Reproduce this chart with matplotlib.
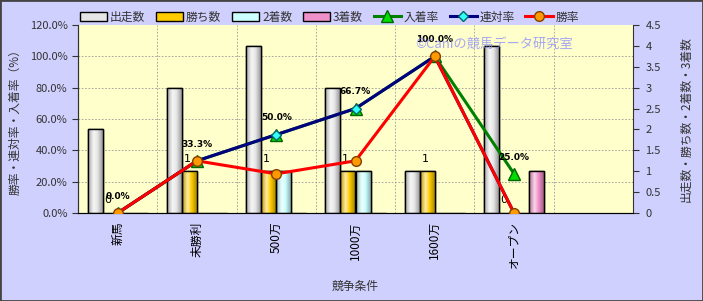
import numpy as np
import matplotlib
matplotlib.use('Agg')
import matplotlib.pyplot as plt
from matplotlib.patches import Rectangle
from matplotlib.colors import to_rgb

plt.rcParams['font.family'] = ['Noto Sans CJK JP', 'DejaVu Sans']

# data
categories = ['新馬', '未勝利', '500万', '1000万', '1600万', 'オープン']
starts = [2, 3, 4, 3, 1, 4]        # 出走数
wins = [0, 1, 1, 1, 1, 0]          # 勝ち数
seconds = [0, 0, 1, 1, 0, 0]       # 2着数
thirds = [0, 0, 0, 0, 0, 1]        # 3着数
place_rate = [0.0, 33.3, 50.0, 66.7, 100.0, 25.0]   # 入着率
quinella_rate = [0.0, 33.3, 50.0, 66.7, 100.0, 0.0]  # 連対率
win_rate = [0.0, 33.3, 25.0, 33.3, 100.0, 0.0]       # 勝率

bg = '#D0D0FF'
txt = '#333333'

fig = plt.figure(figsize=(7.03, 3.01), dpi=100, facecolor=bg)
fig.patches.append(Rectangle((0, 0), 1, 1, transform=fig.transFigure, fill=False,
                             edgecolor='#444444', linewidth=2))

ax = fig.add_axes([78/703, 88/301, 555/703, 188/301])
ax.set_facecolor('#FFFFCC')

# grid lines behind the bars (match the left-axis 20% steps)
for v in np.arange(0.75, 4.5, 0.75):
    ax.axhline(v, color='#999999', linestyle=(0, (2, 2)), linewidth=0.6, zorder=0)
for v in np.arange(0.5, 6.5, 1):
    ax.axvline(v, color='#999999', linestyle=(0, (2, 2)), linewidth=0.6, zorder=0)

x = np.arange(len(categories))
w = 0.19
bar_series = [(starts, '#E6E6E6', '出走数'), (wins, '#FFCC00', '勝ち数'),
              (seconds, '#CCFFFF', '2着数'), (thirds, '#F090C8', '3着数')]


def shade(base):
    c = np.array(to_rgb(base))
    stops = [(0.0, c * 0.72), (0.35, c * 0.35 + 0.65), (0.6, c), (1.0, c * 0.6)]
    t = np.linspace(0, 1, 64)
    out = np.zeros((1, 64, 3))
    for k in range(3):
        out[0, :, k] = np.interp(t, [s[0] for s in stops], [s[1][k] for s in stops])
    return np.clip(out, 0, 1)


handles = []
for i, (vals, col, name) in enumerate(bar_series):
    bars = ax.bar(x + (i - 1.5) * w, vals, width=w, color=col, edgecolor='black',
                  linewidth=1.0, zorder=2)
    grad = shade(col)
    for b in bars:
        if b.get_height() <= 0:
            continue
        im = ax.imshow(grad, extent=[b.get_x(), b.get_x() + b.get_width(), 0, b.get_height()],
                       aspect='auto', zorder=2.1, interpolation='bilinear')
        im.set_clip_path(b)
        ax.add_patch(Rectangle((b.get_x(), 0), b.get_width(), b.get_height(), fill=False,
                               edgecolor='black', linewidth=1.0, zorder=2.2))
    handles.append(Rectangle((0, 0), 1, 1, facecolor=col, edgecolor='black', linewidth=1.0))
    if name == '勝ち数':
        for xi, v in zip(x, vals):
            ax.text(xi - 0.5 * w - 0.03, v + 0.18, str(v), ha='center', va='bottom',
                    fontsize=8, color='black', family='DejaVu Sans', zorder=6)

ax.set_xlim(-0.5, 6.5)
ax.set_ylim(0, 4.5)
ax.set_xticks(x)
ax.set_xticklabels(categories, rotation=90, fontsize=8.5, color='black')
ax.tick_params(axis='x', length=0, pad=6)
ax.set_xlabel('競争条件', fontsize=8.5, color=txt, labelpad=8)
ax.spines['top'].set_visible(False)
for s in ['left', 'right', 'bottom']:
    ax.spines[s].set_color('#333333')

ax2 = ax.twinx()
# twinx moves the first axis ticks to the left, put them back on the right
ax.yaxis.tick_right()
ax.yaxis.set_label_position('right')
ax.set_yticks(np.arange(0, 4.51, 0.5))
ax.set_yticklabels(['0', '0.5', '1', '1.5', '2', '2.5', '3', '3.5', '4', '4.5'])
ax.tick_params(axis='y', colors=txt, labelsize=8, length=4, direction='out', pad=5)
ax.set_ylabel('出走数・勝ち数・2着数・3着数', fontsize=8.5, color=txt, labelpad=13)

ax2.patch.set_visible(False)
ax2.set_ylim(0, 120)
ax2.yaxis.tick_left()
ax2.yaxis.set_label_position('left')
ax2.set_yticks(np.arange(0, 121, 20))
ax2.set_yticklabels(['%.1f%%' % v for v in np.arange(0, 121, 20)])
ax2.tick_params(axis='y', colors=txt, labelsize=8, length=4, direction='out')
ax2.set_ylabel('勝率・連対率・入着率（%）', fontsize=8.5, color=txt, labelpad=6)
for s in ['top', 'right']:
    ax2.spines[s].set_visible(False)
ax2.spines['left'].set_color('#333333')

l1, = ax2.plot(x, place_rate, color='#008000', linewidth=2.2, marker='^', markersize=8,
               markerfacecolor='#00DD00', markeredgecolor='#006600', zorder=3)
l2, = ax2.plot(x, quinella_rate, color='#000080', linewidth=2.2, marker='D', markersize=5,
               markerfacecolor='#33FFFF', markeredgecolor='#006666', zorder=4)
l3, = ax2.plot(x, win_rate, color='#FF0000', linewidth=2.2, marker='o', markersize=7,
               markerfacecolor='#FF9900', markeredgecolor='#804000', zorder=5)
for xi, v in zip(x, place_rate):
    ax2.annotate('%.1f%%' % v, (xi, v), xytext=(0, 12), textcoords='offset points',
                 ha='center', va='center', fontsize=6.5, fontweight='bold',
                 family='DejaVu Sans', color='black', zorder=7)

handles += [l1, l2, l3]
labels = [b[2] for b in bar_series] + ['入着率', '連対率', '勝率']
fig.legend(handles, labels, ncol=7, loc='center left', bbox_to_anchor=(80/703, 1 - 17/301),
           frameon=False, fontsize=8.5, handlelength=2.3, handletextpad=0.25,
           columnspacing=0.9, labelcolor=txt, borderpad=0, borderaxespad=0)

fig.text(415/703, 1 - 44/301, '©Caniの競馬データ研究室', fontsize=9.5, color='#8888FF',
         alpha=0.75, ha='left', va='center', zorder=10)

fig.savefig('out.png', dpi=100, facecolor=bg)
